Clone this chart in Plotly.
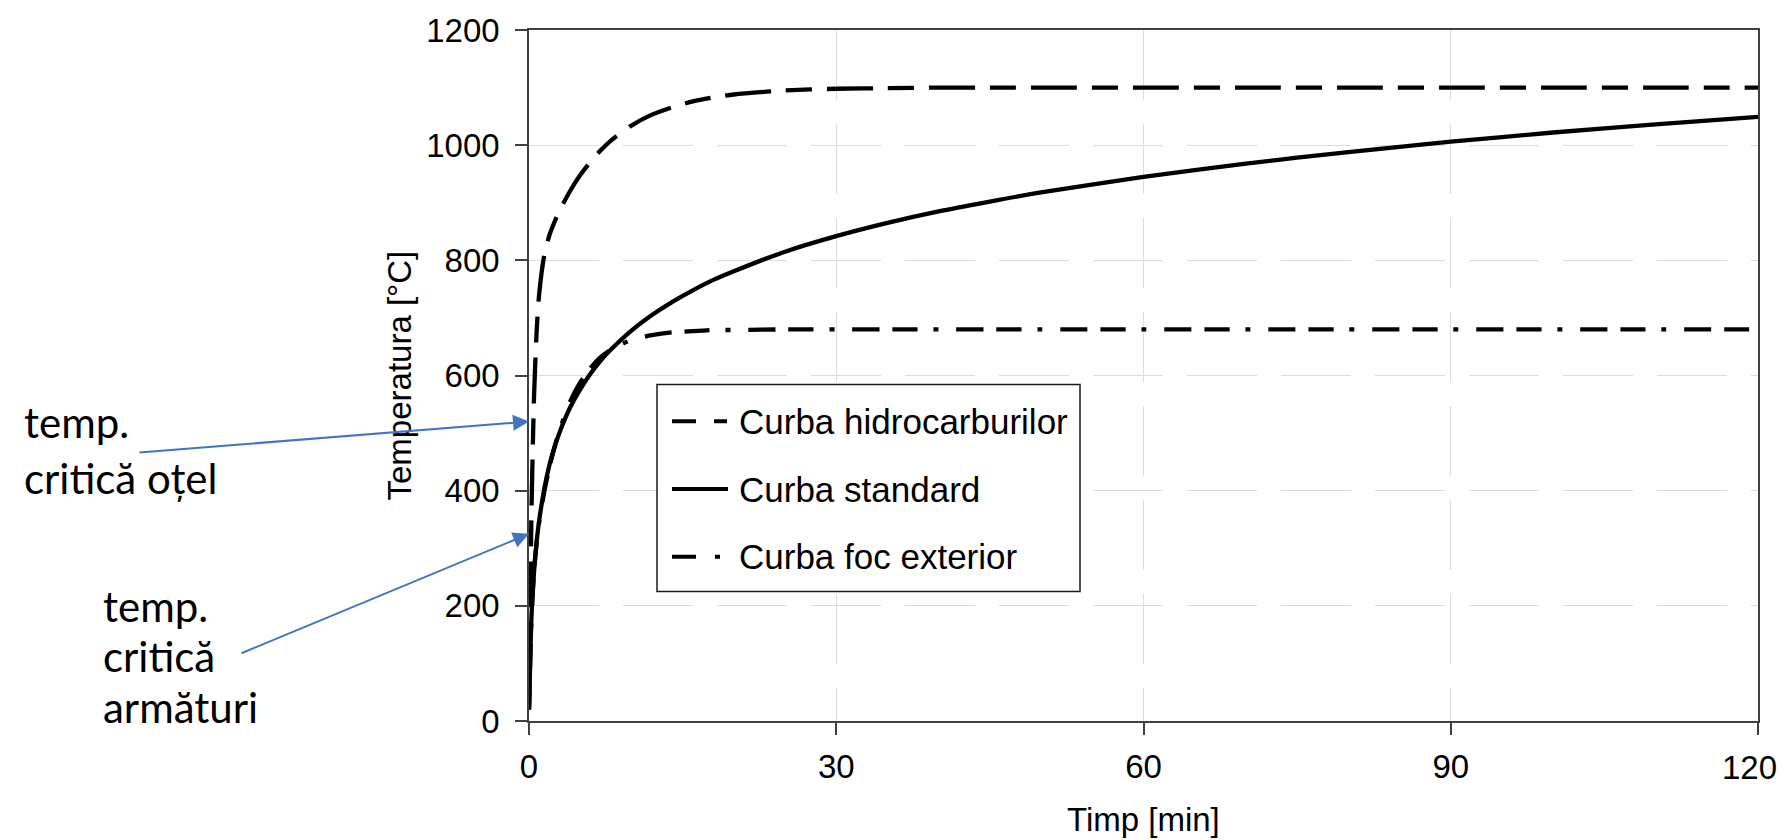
import plotly.graph_objects as go

# Time axis [min] and temperatures [°C] of the three fire curves
time_min = [0, 0.25, 0.5, 0.75, 1, 1.5, 2, 2.5, 3, 4, 5, 6, 7, 8, 10, 12, 14, 16,
            18, 20, 25, 30, 35, 40, 45, 50, 60, 70, 80, 90, 100, 110, 120]

temp_hidrocarburi = [20, 373, 568, 678, 743, 810, 844, 867, 887, 920, 948, 971, 991,
                     1008, 1034, 1053, 1066, 1076, 1083, 1088, 1095, 1098, 1099, 1100,
                     1100, 1100, 1100, 1100, 1100, 1100, 1100, 1100, 1100]

temp_standard = [20, 185, 261, 312, 349, 404, 445, 476, 502, 544, 576, 603, 626, 645,
                 678, 705, 728, 748, 766, 781, 815, 842, 865, 885, 902, 918, 945, 968,
                 988, 1006, 1022, 1036, 1049]

temp_foc_exterior = [20, 182, 263, 311, 346, 399, 441, 476, 506, 554, 588, 613, 632, 645,
                     662, 670, 675, 677, 679, 679, 680, 680, 680, 680, 680, 680, 680, 680,
                     680, 680, 680, 680, 680]

series_names = ["Curba hidrocarburilor", "Curba standard", "Curba foc exterior"]
series_dash = ["46px,15px,26px,15px", "solid", "27px,13px,25px,16px,5px,18px"]
legend_dash = ["24px,18px,13px,100px", "solid", "24px,19px,5px,100px"]

x_ticks = [0, 30, 60, 90, 120]
y_ticks = [0, 200, 400, 600, 800, 1000, 1200]

# Marked critical temperatures [°C]
temp_critica_otel = 520
temp_critica_armaturi = 325

# Figure geometry (pixels)
FIG_W, FIG_H = 1785, 840
PL, PR, PT, PB = 529, 1758, 27, 721
PW, PH = PR - PL, PB - PT


def px(x):
    return (x - PL) / PW


def py(y):
    return (PB - y) / PH


AXIS_FONT = dict(family="Liberation Sans, Arial, sans-serif", size=33, color="black")
NOTE_FONT = dict(family="Lato, Carlito, sans-serif", size=42, color="black")
LINE_COLOR = "#404040"
GRID = dict(showgrid=True, gridcolor="#dcdcdc", gridwidth=1.2, griddash="70px,24px")

fig = go.Figure()
for name, y, dash in zip(series_names,
                         [temp_hidrocarburi, temp_standard, temp_foc_exterior],
                         series_dash):
    fig.add_trace(go.Scatter(
        x=time_min, y=y, name=name, mode="lines",
        line=dict(color="black", width=4.3, dash=dash, shape="spline", smoothing=0.6),
        showlegend=False,
    ))

# The last x label sits at the page edge, so it is drawn as an annotation
# pulled slightly inwards instead of as a regular tick label.
x_ticktext = [str(v) for v in x_ticks[:-1]] + [""]

fig.update_layout(
    width=FIG_W, height=FIG_H, autosize=False,
    margin=dict(l=PL, r=FIG_W - PR, t=PT, b=FIG_H - PB, pad=0),
    paper_bgcolor="white", plot_bgcolor="white",
    xaxis=dict(range=[0, 120], tickvals=x_ticks, ticktext=x_ticktext,
               showline=True, linecolor=LINE_COLOR, linewidth=1.5, mirror=True,
               ticks="outside", ticklen=12, tickwidth=1.5, tickcolor=LINE_COLOR,
               tickfont=AXIS_FONT, ticklabelstandoff=4,
               zeroline=False, **GRID),
    yaxis=dict(range=[0, 1200], tickvals=y_ticks, ticktext=[str(v) for v in y_ticks],
               showline=True, linecolor=LINE_COLOR, linewidth=1.5, mirror=True,
               ticks="outside", ticklen=12, tickwidth=1.5, tickcolor=LINE_COLOR,
               tickfont=AXIS_FONT, ticklabelstandoff=9,
               zeroline=False, **GRID),
)

fig.add_annotation(text=str(x_ticks[-1]), xref="x", yref="paper",
                   x=x_ticks[-1], y=py(768), xanchor="center", yanchor="middle",
                   xshift=-9, showarrow=False, font=AXIS_FONT)

# Axis titles
fig.add_annotation(text="Timp [min]", xref="paper", yref="paper",
                   x=px((PL + PR) / 2), y=py(820), xanchor="center", yanchor="middle",
                   showarrow=False, font=AXIS_FONT)
fig.add_annotation(text="Temperatura [°C]", xref="paper", yref="paper",
                   x=px(399), y=py((PT + PB) / 2), xanchor="center", yanchor="middle",
                   textangle=-90, showarrow=False, font=AXIS_FONT)

# Legend box drawn by hand
LEG_FONT = dict(family="Liberation Sans, Arial, sans-serif", size=35, color="black")
fig.add_shape(type="rect", xref="paper", yref="paper",
              x0=px(657), x1=px(1080), y0=py(591), y1=py(383),
              line=dict(color="#1a1a1a", width=1.5), fillcolor="white", layer="above")
for i, (name, dash) in enumerate(zip(series_names, legend_dash)):
    yc = 420 + 68 * i
    fig.add_shape(type="line", xref="paper", yref="paper",
                  x0=px(672), x1=px(728), y0=py(yc), y1=py(yc),
                  line=dict(color="black", width=4, dash=dash), layer="above")
    fig.add_annotation(text=name, xref="paper", yref="paper",
                       x=px(737), y=py(yc), xanchor="left", yanchor="middle",
                       showarrow=False, font=LEG_FONT)

# Notes with arrows pointing at the critical temperatures
ARROW_BLUE = "#4472C4"
fig.add_annotation(x=0, y=temp_critica_otel, xref="x", yref="y", text="",
                   showarrow=True, arrowhead=2, arrowsize=1.6, arrowwidth=2,
                   arrowcolor=ARROW_BLUE, ax=-391, ay=31, standoff=0)
fig.add_annotation(x=0, y=temp_critica_armaturi, xref="x", yref="y", text="",
                   showarrow=True, arrowhead=2, arrowsize=1.6, arrowwidth=2,
                   arrowcolor=ARROW_BLUE, ax=-289, ay=120, standoff=0)

note_lines = [("temp.", 22, 437), ("critică oțel", 22, 493),
              ("temp.", 101, 621), ("critică", 101, 672), ("armături", 101, 723)]
for txt, xl, base in note_lines:
    fig.add_annotation(text=txt, xref="paper", yref="paper",
                       x=px(xl), y=py(base - 16), xanchor="left", yanchor="middle",
                       showarrow=False, font=NOTE_FONT)

fig.write_html("out.html")
